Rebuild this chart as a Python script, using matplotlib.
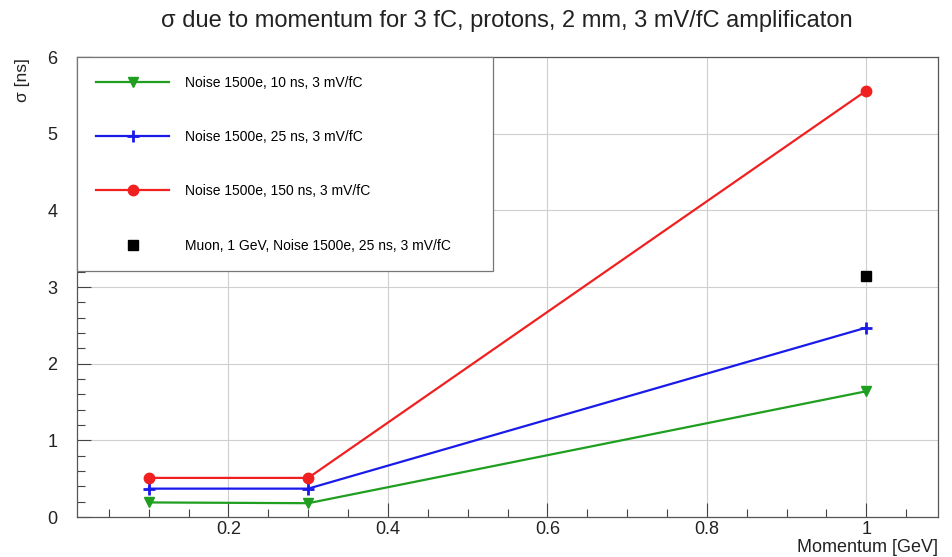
import matplotlib
matplotlib.use('Agg')
import matplotlib.pyplot as plt
from matplotlib.ticker import MultipleLocator

plt.rcParams['font.family'] = ['Liberation Sans', 'DejaVu Sans']

# data
momentum = [0.1, 0.3, 1.0]
sigma_10ns = [0.19, 0.18, 1.64]
sigma_25ns = [0.37, 0.37, 2.47]
sigma_150ns = [0.51, 0.51, 5.56]
muon_momentum = [1.0]
muon_sigma = [3.14]

labels = ['Noise 1500e, 10 ns, 3 mV/fC',
          'Noise 1500e, 25 ns, 3 mV/fC',
          'Noise 1500e, 150 ns, 3 mV/fC',
          'Muon, 1 GeV, Noise 1500e, 25 ns, 3 mV/fC']

fig = plt.figure(figsize=(9.52, 5.57), dpi=100)
ax = fig.add_axes([77 / 952, 1 - 517 / 557, (938 - 77) / 952, (517 - 57) / 557])

ax.plot(momentum, sigma_10ns, color='#1f9e1f', lw=1.6, marker='v',
        markersize=7, label=labels[0])
ax.plot(momentum, sigma_25ns, color='#1a1aeb', lw=1.6, marker='+',
        markersize=9, markeredgewidth=2, label=labels[1])
ax.plot(momentum, sigma_150ns, color='#f02020', lw=1.6, marker='o',
        markersize=7.5, label=labels[2])
ax.plot(muon_momentum, muon_sigma, color='black', lw=0, marker='s',
        markersize=6.5, label=labels[3])

ax.set_xlim(0.01, 1.09)
ax.set_ylim(0, 6)

ax.xaxis.set_major_locator(MultipleLocator(0.2))
ax.xaxis.set_minor_locator(MultipleLocator(0.05))
ax.yaxis.set_major_locator(MultipleLocator(1))
ax.yaxis.set_minor_locator(MultipleLocator(0.2))
ax.xaxis.set_major_formatter(plt.FuncFormatter(lambda v, _: f'{v:g}'))

ax.tick_params(which='both', direction='in', colors='#444444',
               labelcolor='#222222', labelsize=13)
ax.tick_params(which='major', length=10, width=0.8)
ax.tick_params(which='minor', length=6, width=0.8)
ax.tick_params(axis='y', pad=14)
ax.tick_params(axis='x', pad=3)
for s in ax.spines.values():
    s.set_color('#555555')
    s.set_linewidth(0.9)

ax.grid(True, which='major', color='#cfcfcf', lw=0.8)
ax.set_axisbelow(True)

leg = ax.legend(loc='upper left', bbox_to_anchor=(0, 0, 0.483, 1),
                mode='expand', borderaxespad=0, fontsize=10,
                handlelength=5.3, handletextpad=1.1, labelspacing=2.9,
                borderpad=1.35, fancybox=False, framealpha=1,
                edgecolor='#777777')
leg.get_frame().set_linewidth(0.9)
leg.set_zorder(10)

fig.text(507 / 952, 1 - 21 / 557,
         'σ due to momentum for 3 fC, protons, 2 mm, 3 mV/fC amplificaton',
         ha='center', va='center', fontsize=17, color='#222222')
fig.text(22 / 952, 1 - 58 / 557, 'σ [ns]', rotation=90,
         ha='center', va='top', fontsize=12.5, color='#222222')
fig.text(938 / 952, 1 - 548 / 557, 'Momentum [GeV]',
         ha='right', va='center', fontsize=13, color='#222222')

fig.savefig('out.png', dpi=100, facecolor='white')
